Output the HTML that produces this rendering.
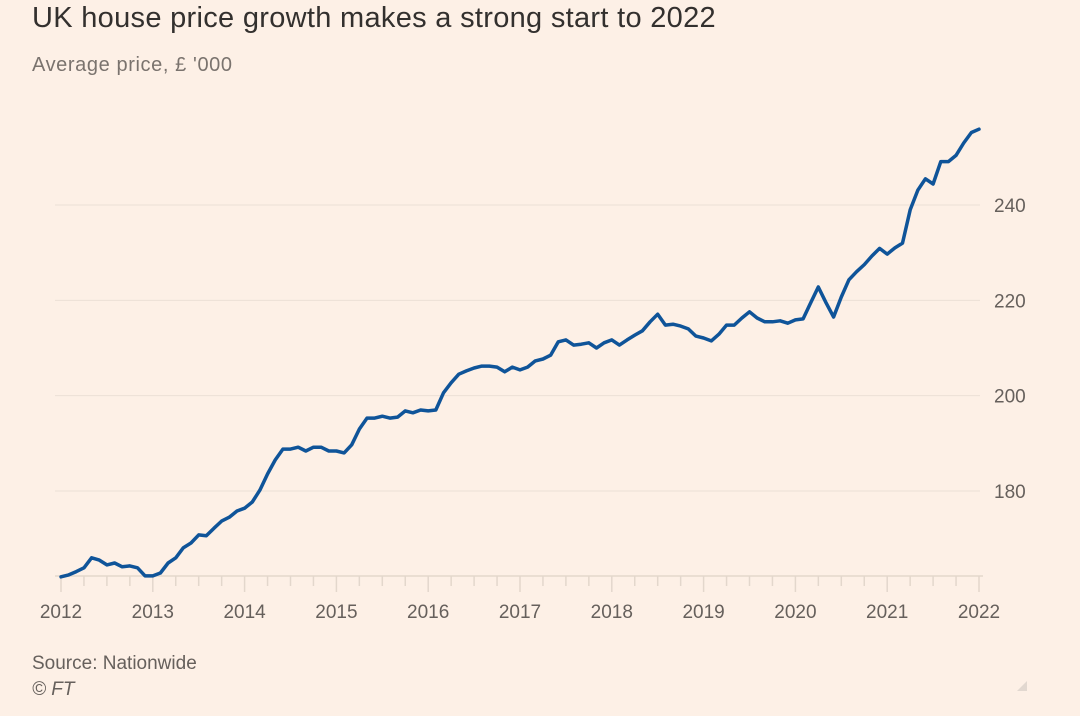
<!DOCTYPE html>
<html><head><meta charset="utf-8"><style>
html,body{margin:0;padding:0;background:#fdf0e6;}
body{width:1080px;height:716px;overflow:hidden;position:relative;font-family:"Liberation Sans",sans-serif;}
.t{position:absolute;white-space:nowrap;}
</style></head><body>
<div class="t" style="left:32px;top:2px;font-size:29px;color:#33302e;letter-spacing:0.3px;">UK house price growth makes a strong start to 2022</div>
<div class="t" style="left:32px;top:54px;font-size:20px;color:#7a736e;letter-spacing:0.6px;">Average price, £ '000</div>
<div class="t" style="left:32px;top:653px;font-size:19px;color:#66605c;">Source: Nationwide</div>
<div class="t" style="left:32px;top:679px;font-size:19px;color:#66605c;font-style:italic;">© FT</div>
<svg id="chart" width="1080" height="716" style="position:absolute;left:0;top:0;">
<polygon points="1027,681 1027,691 1017,691" fill="#e2d8d0"/>
</svg>
<script>
const yTicks=[180,200,220,240];
const years=[2012,2013,2014,2015,2016,2017,2018,2019,2020,2021,2022];
const months=[0,1,2,3,4,5,6,7,8,9,10,11,12,13,14,15,16,17,18,19,20,21,22,23,24,25,26,27,28,29,30,31,32,33,34,35,36,37,38,39,40,41,42,43,44,45,46,47,48,49,50,51,52,53,54,55,56,57,58,59,60,61,62,63,64,65,66,67,68,69,70,71,72,73,74,75,76,77,78,79,80,81,82,83,84,85,86,87,88,89,90,91,92,93,94,95,96,97,98,99,100,101,102,103,104,105,106,107,108,109,110,111,112,113,114,115,116,117,118,119,120];
const prices=[162.0,162.4,163.1,163.9,166.0,165.5,164.5,164.9,164.1,164.3,163.9,162.2,162.2,162.8,164.9,166.0,168.1,169.1,170.8,170.6,172.2,173.7,174.5,175.8,176.4,177.7,180.2,183.6,186.5,188.8,188.8,189.2,188.4,189.2,189.2,188.4,188.4,188.0,189.7,193.0,195.3,195.3,195.7,195.3,195.5,196.8,196.4,197.0,196.8,197.0,200.6,202.7,204.5,205.2,205.8,206.2,206.2,206.0,205.0,206.0,205.4,206.0,207.3,207.7,208.5,211.3,211.7,210.6,210.8,211.1,210.0,211.1,211.7,210.6,211.7,212.7,213.6,215.5,217.1,214.8,215.0,214.6,214.0,212.5,212.1,211.5,212.9,214.8,214.8,216.3,217.6,216.3,215.5,215.5,215.7,215.2,215.9,216.1,219.5,222.8,219.5,216.5,220.7,224.3,226.0,227.5,229.3,230.9,229.7,231.0,232.0,239.0,243.1,245.5,244.4,249.1,249.1,250.4,253.0,255.2,255.9];
const NS='http://www.w3.org/2000/svg';
const svg=document.getElementById('chart');
const X0=61,X1=979,Y240=205,PPU=4.767,BASE=576;
function xm(m){return X0+(m/120)*(X1-X0);}
function yv(v){return Y240+(240-v)*PPU;}
function mk(tag,attrs){const e=document.createElementNS(NS,tag);for(const k in attrs)e.setAttribute(k,attrs[k]);svg.appendChild(e);return e;}
yTicks.forEach(v=>{
  const g=mk('line',{x1:55,x2:980,y1:yv(v),y2:yv(v),stroke:'#ebe0d6','stroke-width':1});
  
  
  const t=mk('text',{x:994,y:yv(v)+7,'font-size':19,fill:'#66605c','font-family':'Liberation Sans, sans-serif'});
  t.textContent=v;
  
  
});
const ax=mk('line',{x1:55,x2:983,y1:BASE,y2:BASE,stroke:'#e3d7cc','stroke-width':1.5});


for(let q=0;q<=40;q++){
  const isYear=q%4===0;
  const tk=mk('line',{x1:xm(q*3),x2:xm(q*3),y1:BASE,y2:BASE+(isYear?16:10),stroke:'#e3d7cc','stroke-width':1.5});
  
  
}
years.forEach((yr,i)=>{
  const t=mk('text',{x:xm(i*12),y:618,'font-size':19,fill:'#66605c','text-anchor':'middle','font-family':'Liberation Sans, sans-serif'});
  t.textContent=yr;
  
  
});
const d=months.map((m,i)=>(i?'L':'M')+xm(m).toFixed(1)+','+yv(prices[i]).toFixed(1)).join(' ');
const p=mk('path',{d:d,fill:'none',stroke:'#0f5499','stroke-width':3.5,'stroke-linejoin':'round','stroke-linecap':'round'});


</script>
</body></html>
